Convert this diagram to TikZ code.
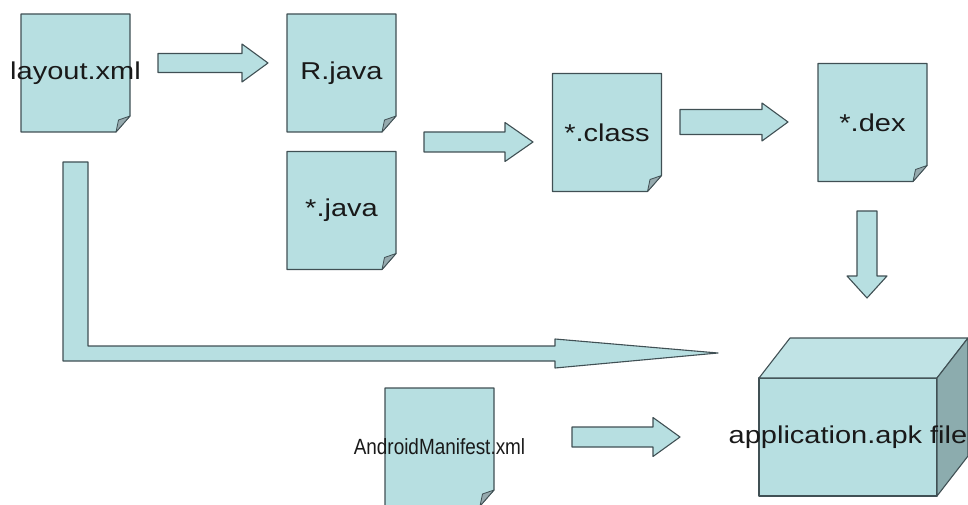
\documentclass[tikz,border=0pt]{standalone}
\usepackage{fontspec}
\setmainfont{Liberation Sans}
\usetikzlibrary{calc,backgrounds}
\definecolor{paperfill}{RGB}{183,223,225}
\definecolor{edgecol}{RGB}{64,80,84}
\definecolor{foldcol}{RGB}{150,170,174}
\definecolor{sidecol}{RGB}{140,172,174}
\definecolor{topcol}{RGB}{192,227,229}
\tikzset{
	doc/.style={inner sep=0pt,text=black!90,font=\fontsize{29}{34}\selectfont,yscale=.84},
	paper/.style={draw=edgecol,fill=paperfill,line width=1.1pt,line join=round},
	fold/.style={draw=edgecol,fill=foldcol,line width=.8pt,line join=round},
}
\newcommand\fatright[5]{\draw[paper] let \p1=#1, \p2=#2 in (\x1,\y1+#3) -- (\x2-#5,\y1+#3) -- (\x2-#5,\y1+#4) -- (\x2,\y1) -- (\x2-#5,\y1-#4) -- (\x2-#5,\y1-#3) -- (\x1,\y1-#3) -- cycle;}
\newcommand\fatdown[5]{\draw[paper] let \p1=#1, \p2=#2 in (\x1-#3,\y1) -- (\x1-#3,\y2+#5) -- (\x1-#4,\y2+#5) -- (\x1,\y2) -- (\x1+#4,\y2+#5) -- (\x1+#3,\y2+#5) -- (\x1+#3,\y1) -- cycle;}
\begin{document}
\begin{tikzpicture}[x=1pt,y=1pt]
	\useasboundingbox (0,0) rectangle (968,504);
	\node[doc] (layout) at (75.5,431) {layout.xml};
	\node[doc] (rjava) at (341.5,431) {R.java};
	\node[doc] (java) at (341.5,293.5) {*.java};
	\node[doc] (class) at (607,371.5) {*.class};
	\node[doc] (dex) at (872.5,381.5) {*.dex};
	\node[doc,font=\fontsize{22}{26}\selectfont,xscale=.86,yscale=1.19] (manifest) at (439.5,57) {AndroidManifest.xml};
	\node[doc] (apk) at (848,67) {application.apk file};
	\begin{scope}[on background layer]
		\foreach \nm in {layout,rjava,java,class,dex,manifest}{
			\draw[paper] ($(\nm)+(-54.5,59)$) -- ($(\nm)+(54.5,59)$) -- ($(\nm)+(54.5,-43)$) -- ($(\nm)+(40.5,-59)$) -- ($(\nm)+(-54.5,-59)$) -- cycle;
			\draw[fold] ($(\nm)+(54.5,-43)$) -- ($(\nm)+(40.5,-59)$) -- ($(\nm)+(43,-47)$) -- cycle;
		}
		\draw[paper] ($(apk)+(-89,-59)$) rectangle ($(apk)+(89,59)$);
		\draw[paper,fill=topcol] ($(apk)+(-89,59)$) -- ($(apk)+(-58,99)$) -- ($(apk)+(120,99)$) -- ($(apk)+(89,59)$) -- cycle;
		\draw[paper,fill=sidecol] ($(apk)+(89,59)$) -- ($(apk)+(120,99)$) -- ($(apk)+(120,-19)$) -- ($(apk)+(89,-59)$) -- cycle;
	\end{scope}
	\fatright{($(layout)+(82.5,10)$)}{($(rjava)+(-73.5,10)$)}{9.5}{19}{26}
	\fatright{($(java)+(82.5,68.5)$)}{($(class)+(-74,-9.5)$)}{10}{19.5}{28}
	\fatright{($(class)+(73,10.5)$)}{($(dex)+(-84.5,0.5)$)}{12.5}{19}{26}
	\fatdown{($(dex)+(-5.5,-88.5)$)}{($(apk)+(19,139)$)}{10}{20}{22}
	\fatright{($(manifest)+(132.5,10)$)}{($(apk)+(-168,0)$)}{10}{19.5}{27}
	\draw[paper] let \p1=(layout), \p2=(apk) in (\x1-12.5,\y1-89) -- (\x1+12.5,\y1-89) -- (\x1+12.5,\y2+91) -- (\x2-293,\y2+91) -- (\x2-293,\y2+98) -- (\x2-130,\y2+84) -- (\x2-293,\y2+69) -- (\x2-293,\y2+76) -- (\x1-12.5,\y2+76) -- cycle;
	%\draw[red] (0,0) grid[step=100] (968,504);
\end{tikzpicture}
\end{document}
